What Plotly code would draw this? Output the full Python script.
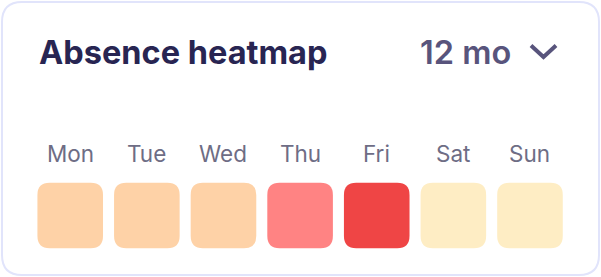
import plotly.graph_objects as go

W, H = 601, 277

# ---- data ----
days = ["Mon", "Tue", "Wed", "Thu", "Fri", "Sat", "Sun"]
absence_rate = [2.4, 2.2, 2.5, 3.9, 5.2, 0.6, 0.5]   # % of shifts absent (est.)
bin_edges = [0, 1.0, 3.0, 4.5]                        # lower edge of each colour bin
bin_colors = ["#FEEDC4", "#FED2A7", "#FF8383", "#EF4545"]
title_text = "Absence heatmap"
period_text = "12 mo"

def color_for(v):
    c = bin_colors[0]
    for edge, col in zip(bin_edges, bin_colors):
        if v >= edge:
            c = col
    return c

def px(x):
    return x / W

def py(y):
    return 1 - y / H

def rounded_rect_path(x0, y0, x1, y1, r, fx=lambda v: v, fy=lambda v: v):
    return (
        f"M {fx(x0 + r)} {fy(y0)} L {fx(x1 - r)} {fy(y0)} "
        f"Q {fx(x1)} {fy(y0)} {fx(x1)} {fy(y0 + r)} "
        f"L {fx(x1)} {fy(y1 - r)} Q {fx(x1)} {fy(y1)} {fx(x1 - r)} {fy(y1)} "
        f"L {fx(x0 + r)} {fy(y1)} Q {fx(x0)} {fy(y1)} {fx(x0)} {fy(y1 - r)} "
        f"L {fx(x0)} {fy(y0 + r)} Q {fx(x0)} {fy(y0)} {fx(x0 + r)} {fy(y0)} Z"
    )

fig = go.Figure()

fig.add_trace(go.Scatter(
    x=list(range(len(days))), y=[0] * len(days),
    mode="markers", marker=dict(size=60, opacity=0),
    text=[f"{d}: {v}%" for d, v in zip(days, absence_rate)],
    hoverinfo="text", showlegend=False,
))

shapes = []
shapes.append(dict(
    type="path", xref="paper", yref="paper",
    path=rounded_rect_path(2, 2, 599, 275, 20, px, py),
    line=dict(color="#E1E4FB", width=2), fillcolor="white", layer="below",
))

half = 0.428
rad = 0.16
for i, v in enumerate(absence_rate):
    shapes.append(dict(
        type="path", xref="x", yref="y",
        path=rounded_rect_path(i - half, -half, i + half, half, rad),
        line=dict(width=0), fillcolor=color_for(v), layer="above",
    ))

shapes.append(dict(
    type="path", xref="paper", yref="paper",
    path=f"M {px(531)} {py(45.5)} L {px(543.5)} {py(57)} L {px(556)} {py(45.5)}",
    line=dict(color="#58547C", width=4),
))

annotations = [
    dict(text=title_text, xref="paper", yref="paper", x=px(37), y=py(52),
         xanchor="left", yanchor="middle", showarrow=False,
         font=dict(family="Inter", size=32.5, color="#282552", weight=700)),
    dict(text=period_text, xref="paper", yref="paper", x=px(513), y=py(52),
         xanchor="right", yanchor="middle", showarrow=False,
         font=dict(family="Inter", size=32.5, color="#58547C", weight=600)),
]
for i, d in enumerate(days):
    annotations.append(dict(
        text=d, xref="x", yref="paper", x=i, y=py(153),
        xanchor="center", yanchor="middle", showarrow=False,
        font=dict(family="Inter", size=22.5, color="#6E6D85"),
    ))

fig.update_layout(
    width=W, height=H,
    margin=dict(l=0, r=0, t=0, b=0),
    paper_bgcolor="white", plot_bgcolor="rgba(0,0,0,0)",
    xaxis=dict(range=[-0.5, 6.5], domain=[31.9 / W, 568.3 / W],
               visible=False, fixedrange=True),
    yaxis=dict(range=[-0.5, 0.5], domain=[(61.5 - 38.3) / H, (61.5 + 38.3) / H],
               visible=False, fixedrange=True),
    shapes=shapes, annotations=annotations,
    showlegend=False,
)

fig.write_html("out.html")
